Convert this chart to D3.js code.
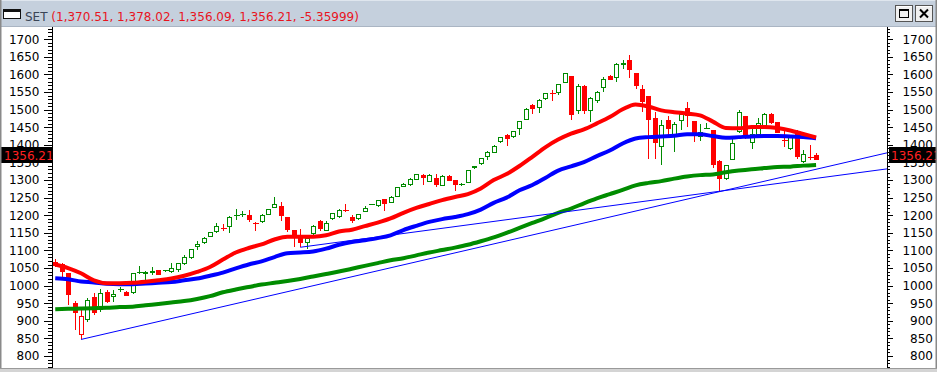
<!DOCTYPE html>
<html>
<head>
<meta charset="utf-8">
<script src="https://cdn.jsdelivr.net/npm/d3@7"></script>
<style>
body { margin: 0; background: #fff; overflow: hidden; }
svg { display: block; font-family: "DejaVu Sans", sans-serif; }
</style>
</head>
<body>
<svg id="chart" width="937" height="372"></svg>
<script>
//
// Data
//

var titleName = 'SET'
var titleQuote = '(1,370.51, 1,378.02, 1,356.09, 1,356.21, -5.35999)'
var lastLabel = '1356.21'
var lastClose = 1356.21

var opens = [1068,1061,1035,951,860,902,967,931,983,967,988,983,978,1038,1036,1035,1044,1042,1038,1043,
  1061,1079,1109,1120,1139,1151,1165,1166,1201,1202,1200,1180,1181,1202,1222,1226,1196,1158,1139,1122,
  1146,1184,1156,1188,1194,1215,1194,1188,1210,1231,1226,1245,1235,1252,1281,1287,1300,1314,1295,1305,
  1284,1311,1300,1287,1292,1333,1345,1366,1377,1407,1427,1421,1446,1472,1513,1506,1529,1547,1546,1577,
  1595,1496,1567,1496,1525,1563,1595,1591,1626,1642,1603,1560,1538,1475,1393,1470,1427,1468,1506,1468,
  1421,1447,1442,1354,1302,1358,1437,1481,1404,1427,1453,1489,1465,1416,1387,1440,1350,1367,1370.51]
var highs = [1077,1063,1037,956,935,964,979,989,987,987,997,984,1036,1055,1041,1052,1045,1044,1063,1064,
  1087,1104,1127,1137,1152,1177,1174,1197,1219,1212,1216,1181,1203,1219,1251,1238,1196,1158,1160,1134,
  1172,1187,1184,1207,1217,1233,1200,1204,1225,1233,1244,1246,1254,1281,1293,1305,1318,1317,1317,1317,
  1314,1313,1301,1291,1329,1341,1363,1383,1399,1422,1432,1440,1468,1504,1517,1529,1548,1555,1574,1604,
  1596,1574,1569,1536,1553,1592,1598,1633,1640,1655,1603,1569,1538,1494,1472,1481,1465,1494,1522,1468,
  1459,1461,1442,1358,1343,1418,1498,1481,1451,1475,1490,1490,1466,1446,1426,1441,1385,1399,1378.02]
var lows = [1052,1025,945,874,847,897,916,926,950,954,983,970,977,1032,1016,1030,1029,1040,1036,1040,
  1060,1075,1101,1118,1138,1150,1155,1150,1186,1194,1181,1155,1178,1200,1220,1184,1153,1109,1109,1103,
  1144,1156,1154,1187,1192,1210,1178,1187,1209,1230,1224,1212,1234,1251,1279,1283,1299,1287,1294,1281,
  1283,1296,1269,1283,1291,1332,1344,1358,1376,1406,1396,1420,1427,1471,1489,1491,1528,1525,1543,1576,
  1472,1487,1487,1465,1520,1551,1583,1579,1617,1591,1560,1494,1361,1361,1342,1424,1380,1442,1451,1408,
  1411,1446,1333,1267,1301,1357,1435,1418,1387,1426,1452,1460,1433,1394,1386,1361,1349,1358,1356.09]
var closes = [1055,1040,973,921,914,959,921,978,954,975,989,971,1035,1039,1040,1042,1030,1043,1049,1063,
  1080,1103,1118,1134,1151,1169,1164,1194,1202,1203,1186,1179,1200,1217,1232,1197,1158,1139,1122,1134,
  1169,1160,1177,1205,1215,1214,1184,1203,1222,1232,1243,1233,1251,1279,1290,1302,1317,1305,1314,1287,
  1311,1298,1287,1288,1328,1339,1362,1380,1396,1421,1418,1439,1467,1503,1501,1527,1548,1546,1572,1603,
  1486,1567,1496,1532,1551,1588,1584,1629,1633,1612,1567,1522,1470,1406,1456,1446,1459,1487,1481,1434,
  1437,1448,1342,1302,1342,1404,1494,1425,1432,1461,1489,1461,1434,1415,1425,1366,1375,1366,1356.21]

// moving averages, read every second bar
var maBars = d3.range(0, 119, 2)
var maRed = [1060,1050,1035,1015,1007,1007,1008,1011,1015,1020,1028,1039,1053,1074,1094,1107,1117,1131,1139,1139,
  1139,1143,1154,1159,1169,1179,1191,1207,1221,1232,1243,1252,1260,1276,1300,1317,1340,1366,1393,1415,
  1432,1444,1461,1479,1501,1515,1509,1498,1493,1489,1484,1466,1448,1447,1451,1451,1448,1441,1431,1421]
var maBlue = [1021,1018,1012,1009,1005,1004,1004,1006,1008,1010,1015,1020,1028,1037,1049,1060,1069,1081,1092,1094,
  1097,1105,1116,1124,1129,1135,1143,1158,1170,1181,1189,1195,1203,1216,1235,1250,1271,1286,1306,1327,
  1339,1351,1368,1384,1404,1418,1422,1424,1426,1430,1430,1425,1420,1422,1424,1425,1425,1424,1422,1419]
var maGreen = [933,934,935,936,937,939,940,944,948,952,956,962,970,981,989,996,1003,1008,1013,1019,
  1026,1033,1040,1048,1056,1064,1072,1078,1086,1094,1101,1108,1116,1126,1137,1150,1164,1178,1192,1207,
  1219,1234,1248,1260,1272,1285,1292,1297,1304,1310,1314,1316,1322,1327,1331,1334,1337,1338,1341,1343]

// trend lines: [bar, price] anchors, extended to the right edge
var trendLow = [[4, 847], [103, 1267]]
var trendMid = [[38, 1109], [128.7, 1331]]

var yLabels = [800,850,900,950,1000,1050,1100,1150,1200,1250,1300,1350,1400,1450,1500,1550,1600,1650,1700]
var yMinor = d3.range(770, 1740, 10)

//
// Configuration
//

var W = 937, H = 372
var plot = { left: 52, right: 887, top: 27, bottom: 368 }
var colorUp = '#008a00'
var colorDown = '#ff0000'
var colorRed = '#ff0000'
var colorBlue = '#0000ff'
var colorGreen = '#008c00'

var svg = d3.select('#chart')

var x = d3.scaleLinear().domain([-0.5, 129]).range([plot.left, plot.right])
var y = d3.scaleLinear().domain([800, 1700]).range([356, 39.3])

// background
svg.append('rect').attr('width', W).attr('height', H).attr('fill', '#fff')

svg.append('defs').append('clipPath').attr('id', 'plotclip')
  .append('rect')
  .attr('x', plot.left + 1).attr('y', plot.top)
  .attr('width', plot.right - plot.left - 1).attr('height', plot.bottom - plot.top)

//
// Candles
//

var bars = d3.range(opens.length)
var gCandles = svg.append('g').attr('clip-path', 'url(#plotclip)').attr('shape-rendering', 'crispEdges')

bars.forEach(function (i) {
  var o = opens[i], c = closes[i], h = highs[i], l = lows[i]
  var prev = i > 0 ? closes[i - 1] : o
  var color = c >= prev ? colorUp : colorDown
  var cx = Math.round(x(i)) + 0.5
  var yTop = y(Math.max(o, c)), yBot = y(Math.min(o, c))
  var g = gCandles.append('g')

  g.append('line')
    .attr('x1', cx).attr('x2', cx)
    .attr('y1', Math.round(y(h))).attr('y2', Math.round(y(l)))
    .attr('stroke', color).attr('stroke-width', 1)

  if (Math.abs(c - o) < 1.5) {
    g.append('line')
      .attr('x1', cx - 3).attr('x2', cx + 3)
      .attr('y1', Math.round(y(c)) + 0.5).attr('y2', Math.round(y(c)) + 0.5)
      .attr('stroke', color).attr('stroke-width', 1)
  } else if (c < o) {
    g.append('rect')
      .attr('x', cx - 2.5).attr('y', Math.round(yTop))
      .attr('width', 5).attr('height', Math.max(1, Math.round(yBot) - Math.round(yTop)))
      .attr('fill', color)
  } else {
    g.append('rect')
      .attr('x', cx - 2).attr('y', Math.round(yTop) + 0.5)
      .attr('width', 4).attr('height', Math.max(1, Math.round(yBot) - Math.round(yTop) - 1))
      .attr('fill', '#fff').attr('stroke', color).attr('stroke-width', 1)
  }
})

//
// Moving averages and trend lines
//

var gLines = svg.append('g').attr('clip-path', 'url(#plotclip)')
var maLine = d3.line()
  .x(function (d) { return x(d[0]) })
  .y(function (d) { return y(d[1]) })
  .curve(d3.curveMonotoneX)

function drawMA(values, color) {
  gLines.append('path')
    .datum(maBars.map(function (b, k) { return [b, values[k]] }))
    .attr('d', maLine)
    .attr('fill', 'none')
    .attr('stroke', color)
    .attr('stroke-width', 4)
}

drawMA(maGreen, colorGreen)
drawMA(maBlue, colorBlue)
drawMA(maRed, colorRed)

function drawTrend(anchors) {
  var a = anchors[0], b = anchors[1]
  var slope = (b[1] - a[1]) / (b[0] - a[0])
  var end = x.domain()[1]
  gLines.append('line')
    .attr('x1', x(a[0])).attr('y1', y(a[1]))
    .attr('x2', x(end)).attr('y2', y(a[1] + slope * (end - a[0])))
    .attr('stroke', colorBlue).attr('stroke-width', 1)
}

drawTrend(trendLow)
drawTrend(trendMid)

//
// Axes
//

function styleAxis(g) {
  g.select('.domain').remove()
  g.selectAll('line').attr('stroke', '#000')
  g.selectAll('text').attr('fill', '#000').style('font-size', '12px')
    .style('font-family', '"DejaVu Sans", sans-serif')
}

var minorTicks = yMinor.filter(function (v) { return y(v) > plot.top && y(v) < plot.bottom })

svg.append('g').attr('transform', 'translate(' + plot.left + ',0)').attr('shape-rendering', 'crispEdges')
  .call(d3.axisLeft(y).tickValues(minorTicks).tickSize(4).tickFormat(''))
  .call(styleAxis)
svg.append('g').attr('transform', 'translate(' + plot.left + ',0)').attr('shape-rendering', 'crispEdges')
  .call(d3.axisLeft(y).tickValues(yLabels).tickSize(8).tickPadding(4.5).tickFormat(d3.format('d')))
  .call(styleAxis)

svg.append('g').attr('transform', 'translate(' + plot.right + ',0)').attr('shape-rendering', 'crispEdges')
  .call(d3.axisRight(y).tickValues(minorTicks).tickSize(3).tickFormat(''))
  .call(styleAxis)
var rightAxis = svg.append('g').attr('transform', 'translate(' + plot.right + ',0)').attr('shape-rendering', 'crispEdges')
  .call(d3.axisRight(y).tickValues(yLabels).tickSize(6).tickFormat(d3.format('d')))
  .call(styleAxis)
rightAxis.selectAll('text').attr('text-anchor', 'end').attr('x', 46)

svg.append('line').attr('x1', plot.left + 0.5).attr('x2', plot.left + 0.5)
  .attr('y1', plot.top).attr('y2', plot.bottom).attr('stroke', '#000')
svg.append('line').attr('x1', plot.right + 0.5).attr('x2', plot.right + 0.5)
  .attr('y1', plot.top).attr('y2', plot.bottom).attr('stroke', '#000')

// last price boxes (they hide the axis labels behind them, as in the original)
var boxTop = Math.round(y(lastClose)) - 13
svg.append('clipPath').attr('id', 'leftbox').append('rect')
  .attr('x', 0).attr('y', boxTop).attr('width', plot.left).attr('height', 16)
svg.append('rect').attr('x', 0).attr('y', boxTop).attr('width', plot.left).attr('height', 16).attr('fill', '#000')
svg.append('text').attr('clip-path', 'url(#leftbox)')
  .attr('x', 4).attr('y', boxTop + 12.5)
  .attr('fill', '#ff2020').style('font-size', '12px').text(lastLabel)

svg.append('rect').attr('x', plot.right + 2).attr('y', boxTop).attr('width', W - plot.right - 2).attr('height', 16).attr('fill', '#000')
svg.append('text')
  .attr('x', plot.right + 4).attr('y', boxTop + 12.5)
  .attr('fill', '#ff2020').style('font-size', '12px').text(lastLabel)

//
// Window frame
//

svg.append('rect').attr('x', 0).attr('y', 0).attr('width', W).attr('height', plot.top).attr('fill', '#c5d0dd')
svg.append('line').attr('x1', 0).attr('x2', W).attr('y1', 0.5).attr('y2', 0.5).attr('stroke', '#dfe6ee')
svg.append('line').attr('x1', 0).attr('x2', W).attr('y1', plot.top - 0.5).attr('y2', plot.top - 0.5).attr('stroke', '#aab5c3')

// small window icon
svg.append('rect').attr('x', 3.5).attr('y', 9.5).attr('width', 17).attr('height', 9)
  .attr('fill', '#fff').attr('stroke', '#111')
svg.append('line').attr('x1', 3).attr('x2', 21).attr('y1', 11).attr('y2', 11)
  .attr('stroke', '#111').attr('stroke-width', 2)

svg.append('text').attr('x', 25).attr('y', 20.5).style('font-size', '12px').attr('fill', '#3a4556')
  .text(titleName + ' ')
  .append('tspan').attr('fill', '#e8141e').text(titleQuote)

// buttons
function button(bx, kind) {
  var g = svg.append('g').attr('shape-rendering', 'crispEdges')
  g.append('rect').attr('x', bx + 0.5).attr('y', 5.5).attr('width', 17).attr('height', 16)
    .attr('fill', '#f0f0f0').attr('stroke', '#555')
  g.append('line').attr('x1', bx + 1.5).attr('x2', bx + 17).attr('y1', 6.5).attr('y2', 6.5).attr('stroke', '#fff')
  if (kind === 'max') {
    g.append('rect').attr('x', bx + 4.5).attr('y', 9.5).attr('width', 9).attr('height', 8)
      .attr('fill', 'none').attr('stroke', '#000')
    g.append('line').attr('x1', bx + 4).attr('x2', bx + 14).attr('y1', 10.5).attr('y2', 10.5).attr('stroke', '#000')
  } else {
    g.attr('shape-rendering', null)
    g.append('path').attr('d', 'M' + (bx + 5) + ',9.5L' + (bx + 13) + ',17.5M' + (bx + 13) + ',9.5L' + (bx + 5) + ',17.5')
      .attr('stroke', '#000').attr('stroke-width', 2)
  }
}
button(895, 'max')
button(915, 'close')

// outer borders
svg.append('rect').attr('x', 0).attr('y', 0).attr('width', 1.5).attr('height', H).attr('fill', '#8a8a8a')
svg.append('rect').attr('x', W - 1.5).attr('y', 0).attr('width', 1.5).attr('height', H).attr('fill', '#8a8a8a')
svg.append('rect').attr('x', 0).attr('y', plot.bottom).attr('width', W).attr('height', H - plot.bottom).attr('fill', '#d4d4d4')
svg.append('line').attr('x1', 0).attr('x2', W).attr('y1', plot.bottom + 0.5).attr('y2', plot.bottom + 0.5).attr('stroke', '#9a9a9a')
</script>
</body>
</html>
